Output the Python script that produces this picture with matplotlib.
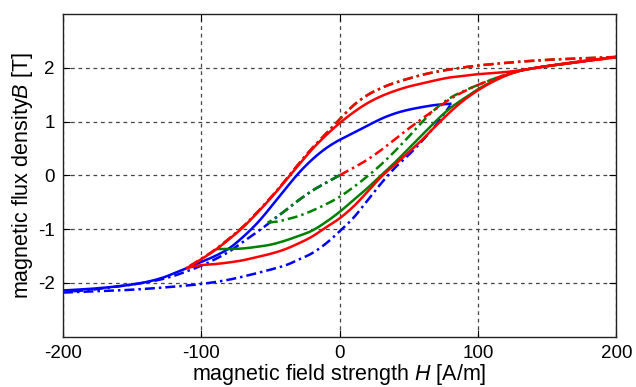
import numpy as np
import matplotlib
matplotlib.use("Agg")
import matplotlib.pyplot as plt

plt.rcParams['font.family'] = ['Liberation Sans', 'DejaVu Sans']
plt.rcParams['mathtext.fontset'] = 'custom'
plt.rcParams['mathtext.rm'] = 'Liberation Sans'
plt.rcParams['mathtext.it'] = 'Liberation Sans:italic'

# ---- data (H in A/m, B in T) ----
# red: initial curve + first descent (dash-dot), then the settled loop (solid)
red_init_H = [0, 10, 20, 30, 40, 50, 60, 70, 80, 90, 100, 110, 120, 130, 140, 150, 165, 180, 200]
red_init_B = [0, 0.14, 0.29, 0.47, 0.67, 0.87, 1.06, 1.24, 1.42, 1.56, 1.68, 1.78, 1.87, 1.94, 1.99, 2.03, 2.08, 2.13, 2.19]
red_desc1_H = [200, 180, 160, 140, 120, 100, 80, 60, 40, 30, 20, 10, 0, -10, -20, -30, -40, -50, -60, -70, -80, -90, -100, -110]
red_desc1_B = [2.2, 2.18, 2.16, 2.13, 2.09, 2.04, 1.97, 1.87, 1.72, 1.62, 1.49, 1.3, 1.04, 0.77, 0.5, 0.2, -0.12, -0.42, -0.7, -0.96, -1.18, -1.38, -1.55, -1.71]
red_asc_H = [-110, -100, -90, -80, -70, -60, -50, -40, -30, -20, -10, 0, 10, 20, 30, 40, 50, 60, 70, 80, 90, 100, 110, 120, 130, 140, 150, 165, 180, 200]
red_asc_B = [-1.72, -1.67, -1.65, -1.62, -1.58, -1.52, -1.46, -1.38, -1.27, -1.14, -0.97, -0.8, -0.58, -0.31, -0.03, 0.2, 0.43, 0.67, 0.93, 1.18, 1.4, 1.58, 1.73, 1.85, 1.94, 1.99, 2.03, 2.08, 2.13, 2.2]
red_desc2_H = [200, 180, 160, 150, 140, 130, 120, 110, 100, 90, 80, 70, 60, 50, 40, 30, 20, 10, 0, -10, -20, -30, -40, -50, -60, -70, -80, -90, -100, -110]
red_desc2_B = [2.2, 2.14, 2.07, 2.03, 1.99, 1.95, 1.92, 1.9, 1.88, 1.85, 1.82, 1.77, 1.71, 1.65, 1.57, 1.47, 1.34, 1.17, 0.97, 0.74, 0.48, 0.18, -0.13, -0.43, -0.71, -0.97, -1.19, -1.39, -1.56, -1.72]

# green
green_init_H = [0, -10, -20, -30, -40, -50, -52]
green_init_B = [0, -0.14, -0.29, -0.47, -0.67, -0.85, -0.88]
green_asc1_H = [-52, -45, -40, -30, -20, -10, 0, 10, 20, 30, 40, 50, 60, 70, 80, 90, 100, 110, 120, 130, 140, 150, 165, 180, 200]
green_asc1_B = [-0.88, -0.86, -0.83, -0.76, -0.66, -0.54, -0.4, -0.22, -0.02, 0.2, 0.45, 0.72, 1.0, 1.25, 1.44, 1.57, 1.68, 1.78, 1.87, 1.94, 1.99, 2.03, 2.08, 2.13, 2.2]
green_desc_H = [200, 180, 160, 140, 120, 100, 80, 60, 40, 30, 20, 10, 0, -10, -20, -30, -40, -50, -60, -70, -80, -88]
green_desc_B = [2.2, 2.18, 2.16, 2.13, 2.09, 2.04, 1.97, 1.87, 1.72, 1.62, 1.49, 1.3, 1.04, 0.77, 0.5, 0.2, -0.12, -0.42, -0.7, -0.96, -1.18, -1.35]
green_asc2_H = [-88, -80, -70, -60, -50, -40, -30, -20, -10, 0, 10, 20, 30, 40, 50, 60, 70, 80, 90, 100, 110, 120, 130, 140, 150, 165, 180, 200]
green_asc2_B = [-1.37, -1.37, -1.36, -1.33, -1.29, -1.22, -1.13, -1.03, -0.87, -0.68, -0.46, -0.24, 0.0, 0.24, 0.5, 0.76, 1.02, 1.25, 1.43, 1.6, 1.74, 1.86, 1.94, 1.99, 2.03, 2.08, 2.13, 2.2]

# blue
blue_init_H = [0, -10, -20, -30, -40, -50, -60, -70, -80, -90, -100, -110, -120, -130, -140, -150, -165, -180, -200]
blue_init_B = [0, -0.14, -0.29, -0.47, -0.67, -0.87, -1.06, -1.24, -1.42, -1.56, -1.68, -1.78, -1.87, -1.94, -1.99, -2.03, -2.08, -2.13, -2.17]
blue_asc_H = [-200, -180, -160, -140, -120, -100, -80, -60, -40, -30, -20, -10, 0, 10, 20, 30, 40, 50, 60, 70, 80]
blue_asc_B = [-2.18, -2.16, -2.14, -2.11, -2.07, -2.02, -1.94, -1.82, -1.68, -1.57, -1.45, -1.27, -1.04, -0.79, -0.47, -0.15, 0.14, 0.38, 0.65, 0.95, 1.3]
blue_desc_H = [80, 70, 60, 50, 40, 30, 20, 10, 0, -10, -20, -30, -40, -50, -60, -70, -80, -90, -100, -110, -130, -150, -175, -200]
blue_desc_B = [1.33, 1.31, 1.27, 1.22, 1.15, 1.05, 0.92, 0.79, 0.66, 0.5, 0.29, 0.03, -0.28, -0.6, -0.9, -1.15, -1.36, -1.5, -1.61, -1.72, -1.92, -2.03, -2.1, -2.14]

x_ticks = [-200, -100, 0, 100, 200]
y_ticks = [-2, -1, 0, 1, 2]

BLUE = '#0000ff'
RED = '#ff0000'
GREEN = '#008000'
DASHDOT = (0, (4, 1.6, 1, 1.6))


def smooth(h, b, n=8):
    # Catmull-Rom pass through the read-off points so the branches bend softly
    p = np.column_stack([h, b]).astype(float)
    p = np.vstack([p[0], p, p[-1]])
    out = []
    for i in range(1, len(p) - 2):
        p0, p1, p2, p3 = p[i - 1], p[i], p[i + 1], p[i + 2]
        for t in np.linspace(0, 1, n, endpoint=False):
            out.append(0.5 * (2 * p1 + (-p0 + p2) * t
                              + (2 * p0 - 5 * p1 + 4 * p2 - p3) * t ** 2
                              + (-p0 + 3 * p1 - 3 * p2 + p3) * t ** 3))
    out.append(p[-2])
    out = np.array(out)
    return out[:, 0], out[:, 1]


fig = plt.figure(figsize=(6.36, 3.87), dpi=100)
ax = fig.add_axes([0.099, 0.13, 0.87, 0.834])

lw = 1.8


def branch(h, b, color, ls='-'):
    x, y = smooth(h, b)
    ax.plot(x, y, color=color, lw=lw, linestyle=ls)


# blue loop
branch(blue_desc_H, blue_desc_B, BLUE)
branch(blue_init_H, blue_init_B, BLUE, DASHDOT)
branch(blue_asc_H, blue_asc_B, BLUE, DASHDOT)
# green loop
branch(green_asc2_H, green_asc2_B, GREEN)
branch(green_init_H, green_init_B, GREEN, DASHDOT)
branch(green_asc1_H, green_asc1_B, GREEN, DASHDOT)
branch(green_desc_H, green_desc_B, GREEN, DASHDOT)
# red loop
branch(red_asc_H, red_asc_B, RED)
branch(red_desc2_H, red_desc2_B, RED)
branch(red_init_H, red_init_B, RED, DASHDOT)
branch(red_desc1_H, red_desc1_B, RED, DASHDOT)

ax.set_xlim(-200, 200)
ax.set_ylim(-3, 3)
ax.set_xticks(x_ticks)
ax.set_yticks(y_ticks)
ax.set_xticklabels([str(v) for v in x_ticks])
ax.set_yticklabels([str(v) for v in y_ticks])
ax.grid(True, color='#444444', linestyle=(0, (3, 3)), linewidth=0.9)
ax.tick_params(direction='in', length=5, width=0.8, top=True, right=True,
               labelsize=13.5, pad=6)
for s in ax.spines.values():
    s.set_linewidth(1.0)
    s.set_color('#222222')

ax.set_xlabel('magnetic field strength $\\it{H}$ [A/m]', fontsize=15.5, labelpad=0)
ax.set_ylabel('magnetic flux density$\\it{B}$ [T]', fontsize=15.5, labelpad=2)

fig.savefig('out.png', dpi=100)
